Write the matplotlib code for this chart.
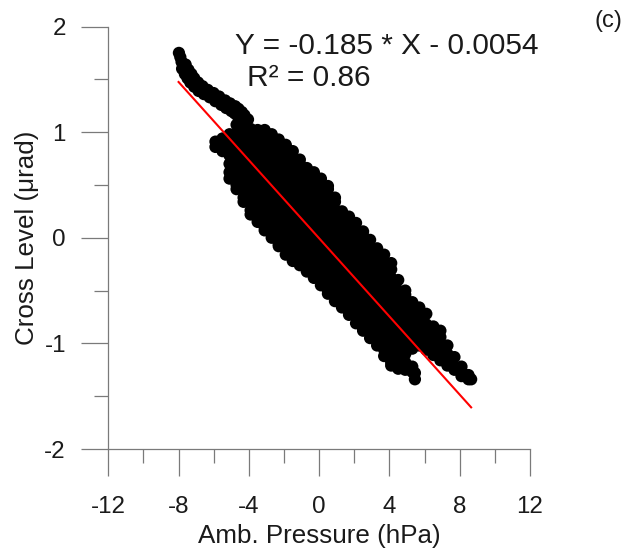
import matplotlib
matplotlib.use("Agg")
import matplotlib.pyplot as plt

plt.rcParams['font.family'] = ['Liberation Sans', 'DejaVu Sans']

# ---- data ----
# upper-left "tail" of the cloud
tail_pressure = [-7.98, -7.90, -7.83, -7.60, -7.80, -7.44, -7.64, -7.27, -7.49,
                 -7.11, -7.33, -6.89, -7.11, -6.64, -6.86, -6.34, -6.56, -6.01,
                 -6.23, -5.69, -5.91, -5.35, -5.57, -5.07, -5.29, -4.78, -5.00,
                 -4.59, -4.81, -4.40, -4.62, -4.25, -4.05]
tail_level = [1.75, 1.71, 1.665, 1.64, 1.60, 1.59, 1.55, 1.55, 1.51,
              1.51, 1.47, 1.47, 1.43, 1.435, 1.39, 1.40, 1.36, 1.37,
              1.33, 1.337, 1.293, 1.30, 1.258, 1.272, 1.228, 1.245, 1.20,
              1.22, 1.178, 1.19, 1.148, 1.16, 1.12]

# main body of the cloud: pressure of each column and the levels in it
body_pressure = [-5.9, -5.5, -5.1, -4.7, -4.3, -3.9, -3.5, -3.1, -2.7, -2.3,
                 -1.9, -1.5, -1.1, -0.7, -0.3, 0.1, 0.5, 0.9, 1.3, 1.7,
                 2.1, 2.5, 2.9, 3.3, 3.7, 4.1, 4.5, 4.9, 5.3, 5.45,
                 5.7, 6.1, 6.5, 6.9, 7.3, 7.7, 8.1, 8.5, 8.65]
body_level = [
    [0.91, 0.86],
    [0.94, 0.90, 0.82],
    [0.98, 0.94, 0.86, 0.78, 0.70, 0.62, 0.56],
    [1.07, 0.98, 0.90, 0.82, 0.74, 0.66, 0.58, 0.50, 0.46],
    [1.07, 1.02, 0.94, 0.86, 0.78, 0.70, 0.62, 0.54, 0.46, 0.38, 0.34],
    [1.03, 0.98, 0.90, 0.82, 0.74, 0.66, 0.58, 0.50, 0.42, 0.34, 0.26, 0.22],
    [1.02, 0.94, 0.86, 0.78, 0.70, 0.62, 0.54, 0.46, 0.38, 0.30, 0.22, 0.15],
    [1.02, 0.98, 0.90, 0.82, 0.74, 0.66, 0.58, 0.50, 0.42, 0.34, 0.26, 0.18, 0.10, 0.07],
    [0.98, 0.94, 0.86, 0.78, 0.70, 0.62, 0.54, 0.46, 0.38, 0.30, 0.22, 0.14, 0.06, 0.00],
    [0.93, 0.90, 0.82, 0.74, 0.66, 0.58, 0.50, 0.42, 0.34, 0.26, 0.18, 0.10, 0.02, -0.06, -0.08],
    [0.88, 0.86, 0.78, 0.70, 0.62, 0.54, 0.46, 0.38, 0.30, 0.22, 0.14, 0.06, -0.02, -0.10, -0.16],
    [0.82, 0.74, 0.66, 0.58, 0.50, 0.42, 0.34, 0.26, 0.18, 0.10, 0.02, -0.06, -0.14, -0.22],
    [0.74, 0.70, 0.62, 0.54, 0.46, 0.38, 0.30, 0.22, 0.14, 0.06, -0.02, -0.10, -0.18, -0.26],
    [0.66, 0.58, 0.50, 0.42, 0.34, 0.26, 0.18, 0.10, 0.02, -0.06, -0.14, -0.22, -0.30, -0.32],
    [0.62, 0.54, 0.46, 0.38, 0.30, 0.22, 0.14, 0.06, -0.02, -0.10, -0.18, -0.26, -0.34, -0.38],
    [0.56, 0.50, 0.42, 0.34, 0.26, 0.18, 0.10, 0.02, -0.06, -0.14, -0.22, -0.30, -0.38, -0.45],
    [0.49, 0.46, 0.38, 0.30, 0.22, 0.14, 0.06, -0.02, -0.10, -0.18, -0.26, -0.34, -0.42, -0.50, -0.53],
    [0.38, 0.34, 0.26, 0.18, 0.10, 0.02, -0.06, -0.14, -0.22, -0.30, -0.38, -0.46, -0.54, -0.60],
    [0.25, 0.22, 0.14, 0.06, -0.02, -0.10, -0.18, -0.26, -0.34, -0.42, -0.50, -0.58, -0.66],
    [0.20, 0.10, 0.02, -0.06, -0.14, -0.22, -0.30, -0.38, -0.46, -0.54, -0.62, -0.70, -0.73],
    [0.14, 0.06, -0.02, -0.10, -0.18, -0.26, -0.34, -0.42, -0.50, -0.58, -0.66, -0.74, -0.81],
    [0.06, 0.02, -0.06, -0.14, -0.22, -0.30, -0.38, -0.46, -0.54, -0.62, -0.70, -0.78, -0.86, -0.88],
    [-0.02, -0.10, -0.18, -0.26, -0.34, -0.42, -0.50, -0.58, -0.66, -0.74, -0.82, -0.90, -0.95],
    [-0.10, -0.14, -0.22, -0.30, -0.38, -0.46, -0.54, -0.62, -0.70, -0.78, -0.86, -0.94, -1.02],
    [-0.16, -0.26, -0.34, -0.42, -0.50, -0.58, -0.66, -0.74, -0.82, -0.90, -0.98, -1.06, -1.12],
    [-0.24, -0.30, -0.38, -0.46, -0.54, -0.62, -0.70, -0.78, -0.86, -0.94, -1.02, -1.10, -1.18, -1.21],
    [-0.40, -0.50, -0.58, -0.66, -0.74, -0.82, -0.90, -0.98, -1.06, -1.14, -1.22, -1.24],
    [-0.50, -0.54, -0.62, -0.70, -0.78, -0.86, -0.94, -1.02, -1.10, -1.18, -1.25],
    [-0.61, -0.66, -0.74, -0.82, -0.90, -0.98, -1.05, -1.22, -1.27],
    [-1.28, -1.34],
    [-0.66, -0.70, -0.78, -0.86, -0.94, -1.02],
    [-0.72, -0.82, -0.90, -0.98, -1.06],
    [-0.84, -0.90, -0.98, -1.06, -1.11],
    [-0.88, -0.94, -1.02, -1.10, -1.16],
    [-1.02, -1.10, -1.18, -1.21],
    [-1.13, -1.22, -1.25],
    [-1.22, -1.26, -1.31],
    [-1.30, -1.34],
    [-1.34],
]

# regression shown on the chart
fit_slope = -0.185
fit_intercept = -0.0054
r_squared = 0.86
fit_pressure_range = [-8.0, 8.65]

x_major = [-12, -8, -4, 0, 4, 8, 12]
x_minor = [-10, -6, -2, 2, 6, 10]
y_major = [-2, -1, 0, 1, 2]
y_minor = [-1.5, -0.5, 0.5, 1.5]

# ---- assemble the scatter series ----
pressure = list(tail_pressure)
level = list(tail_level)
for px, ys in zip(body_pressure, body_level):
    for yv in ys:
        pressure.append(px)
        level.append(yv)

fit_level = [fit_slope * p + fit_intercept for p in fit_pressure_range]

# ---- figure ----
W, H = 629, 552
fig = plt.figure(figsize=(W / 100, H / 100), dpi=100)
ax = fig.add_axes([108.3 / W, 1 - 449 / H, (530 - 108.3) / W, (449 - 26.5) / H])

ax.scatter(pressure, level, s=78, c='black', edgecolors='none', zorder=2)
ax.plot(fit_pressure_range, fit_level, color='#ff0000', lw=1.5, zorder=3)

ax.set_xlim(-12, 12)
ax.set_ylim(-2, 2)
ax.set_xticks(x_major)
ax.set_xticks(x_minor, minor=True)
ax.set_yticks(y_major)
ax.set_yticks(y_minor, minor=True)
ax.set_xticklabels([str(v) for v in x_major])
ax.set_yticklabels([str(v) for v in y_major])

gray = '#7a7a7a'
txt = '#1a1a1a'
for side in ['top', 'right']:
    ax.spines[side].set_visible(False)
for side in ['left', 'bottom']:
    ax.spines[side].set_color(gray)
    ax.spines[side].set_linewidth(0.9)

ax.tick_params(axis='both', which='major', direction='out', length=19.5,
               width=0.9, color=gray, labelsize=17.4, labelcolor=txt)
ax.tick_params(axis='both', which='minor', direction='out', length=9.8,
               width=0.9, color=gray)
ax.tick_params(axis='x', which='major', pad=14)
ax.tick_params(axis='y', which='major', pad=11)

ax.set_xlabel('Amb. Pressure (hPa)', fontsize=18.7, color=txt, labelpad=5)
ax.set_ylabel('Cross Level (\u03bcrad)', fontsize=18.7, color=txt, labelpad=4)

fig.text(235 / W, 1 - 54 / H,
         f'Y = {fit_slope:.3f} * X - {abs(fit_intercept):.4f}',
         fontsize=21.5, color=txt, ha='left', va='baseline')
fig.text(247 / W, 1 - 86 / H, f'R\u00b2 = {r_squared:.2f}',
         fontsize=21.5, color=txt, ha='left', va='baseline')
fig.text(595 / W, 1 - 27 / H, '(c)', fontsize=17, color=txt,
         ha='left', va='baseline')

fig.savefig('out.png', dpi=100, facecolor='white')
